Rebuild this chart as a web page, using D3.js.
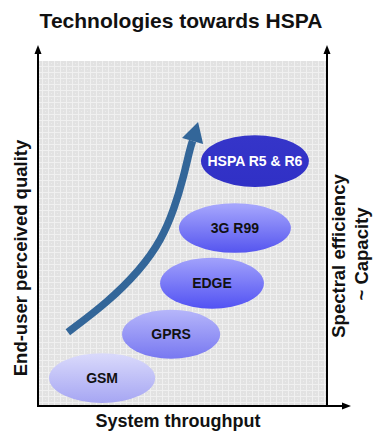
<!DOCTYPE html>
<html>
<head>
<meta charset="utf-8">
<script src="https://cdn.jsdelivr.net/npm/d3@7"></script>
<style>
  html, body { margin: 0; padding: 0; background: #fff; }
  svg { display: block; }
  text { font-family: "Liberation Sans", Arial, sans-serif; font-weight: bold; }
</style>
</head>
<body>
<div id="chart"></div>
<script>
// Technology generations: position on the throughput / quality plane
const technologies = ["GSM", "GPRS", "EDGE", "3G R99", "HSPA R5 & R6"];
const throughput   = [22.1, 45.9, 60.0, 67.9, 74.8];   // x centre (0-100)
const quality      = [8.1, 20.8, 35.6, 51.6, 71.0];    // y centre (0-100)
const spreadX      = [18.3, 16.9, 17.9, 19.3, 18.6];   // half-width (x units)
const spreadY      = [7.2, 7.1, 7.4, 7.2, 7.5];        // half-height (y units)
const topColor     = ["#dadafb", "#b6b6fa", "#a2a2fb", "#a8a8fd", "#3535c9"];
const bottomColor  = ["#a6a6f3", "#7878f1", "#5252f3", "#5555ef", "#3030c6"];
const labelColor   = ["#111", "#111", "#111", "#111", "#fff"];

// Evolution trend curve (x, y in the same 0-100 units)
const trendX = [10.3, 23.8, 35.2, 42.6, 47.0, 50.2, 52.4, 53.3];
const trendY = [21.4, 29.9, 39.4, 48.2, 57.2, 66.4, 74.6, 76.8];
const trendTip = [55.2, 82.3];

const title = "Technologies towards HSPA";
const xTitle = "System throughput";
const yTitle = "End-user perceived quality";
const y2Title = ["Spectral efficiency", "~ Capacity"];

const W = 375, H = 434;
const plot = { left: 38, right: 327, top: 61, bottom: 406 };

const svg = d3.select("#chart").append("svg")
  .attr("width", W).attr("height", H);

const x = d3.scaleLinear().domain([0, 100]).range([plot.left, plot.left + 290]);
const y = d3.scaleLinear().domain([0, 100]).range([plot.bottom, plot.top]);

const defs = svg.append("defs");

// Fine woven texture for the plot background
const pat = defs.append("pattern")
  .attr("id", "weave").attr("patternUnits", "userSpaceOnUse")
  .attr("width", 6).attr("height", 6);
pat.append("rect").attr("width", 6).attr("height", 6).attr("fill", "#e2e2e2");
pat.append("rect").attr("x", 0).attr("y", 0).attr("width", 6).attr("height", 1).attr("fill", "#f0f0f0");
pat.append("rect").attr("x", 0).attr("y", 0).attr("width", 1).attr("height", 6).attr("fill", "#f0f0f0");
pat.append("rect").attr("x", 3).attr("y", 3).attr("width", 1).attr("height", 1).attr("fill", "#ececec");

technologies.forEach((t, i) => {
  const g = defs.append("linearGradient")
    .attr("id", "grad" + i).attr("x1", 0).attr("y1", 0).attr("x2", 0).attr("y2", 1);
  g.append("stop").attr("offset", "0%").attr("stop-color", topColor[i]);
  g.append("stop").attr("offset", "100%").attr("stop-color", bottomColor[i]);
});

// Plot background
svg.append("rect")
  .attr("x", plot.left).attr("y", plot.top)
  .attr("width", plot.right - plot.left).attr("height", plot.bottom - plot.top)
  .attr("fill", "url(#weave)");

// Axes with arrow heads
function arrowHead(tx, ty, dir) {
  const p = dir === "up"
    ? [[tx, ty], [tx - 3.5, ty + 9], [tx + 3.5, ty + 9]]
    : [[tx, ty], [tx - 9, ty - 3.5], [tx - 9, ty + 3.5]];
  svg.append("path").attr("d", "M" + p.map(d => d.join(",")).join("L") + "Z").attr("fill", "#000");
}
const axisG = svg.append("g").attr("stroke", "#000").attr("stroke-width", 2);
axisG.append("line").attr("x1", plot.left).attr("x2", plot.left)
  .attr("y1", plot.bottom + 1).attr("y2", 52);
axisG.append("line").attr("x1", plot.right).attr("x2", plot.right)
  .attr("y1", plot.bottom + 1).attr("y2", 52);
axisG.append("line").attr("x1", plot.left - 1).attr("x2", 344)
  .attr("y1", plot.bottom).attr("y2", plot.bottom);
arrowHead(plot.left, 45, "up");
arrowHead(plot.right, 45, "up");
arrowHead(351, plot.bottom, "right");

// Trend curve with arrow head
const trend = trendX.map((v, i) => [x(v), y(trendY[i])]);
svg.append("path")
  .attr("d", d3.line().curve(d3.curveBasis)(trend))
  .attr("fill", "none").attr("stroke", "#336699").attr("stroke-width", 7.5);
{
  const base = trend[trend.length - 1];
  const tip = [x(trendTip[0]), y(trendTip[1])];
  const dx = tip[0] - base[0], dy = tip[1] - base[1];
  const len = Math.hypot(dx, dy);
  const nx = -dy / len, ny = dx / len, hw = 11;
  const pts = [tip, [base[0] + nx * hw, base[1] + ny * hw], [base[0] - nx * hw, base[1] - ny * hw]];
  svg.append("path").attr("d", "M" + pts.map(d => d.join(",")).join("L") + "Z").attr("fill", "#336699");
}

// Technology bubbles
const bubbles = svg.append("g").selectAll("g").data(technologies).join("g");
bubbles.append("ellipse")
  .attr("cx", (d, i) => x(throughput[i]))
  .attr("cy", (d, i) => y(quality[i]))
  .attr("rx", (d, i) => x(spreadX[i]) - x(0))
  .attr("ry", (d, i) => y(0) - y(spreadY[i]))
  .attr("fill", (d, i) => "url(#grad" + i + ")");
bubbles.append("text")
  .attr("x", (d, i) => x(throughput[i]))
  .attr("y", (d, i) => y(quality[i]))
  .attr("dy", "0.36em")
  .attr("text-anchor", "middle")
  .attr("font-size", 14)
  .attr("fill", (d, i) => labelColor[i])
  .text(d => d);

// Titles
svg.append("text").attr("x", 181).attr("y", 27.5)
  .attr("text-anchor", "middle").attr("font-size", 21).attr("fill", "#111")
  .text(title);
svg.append("text").attr("x", 178).attr("y", 427)
  .attr("text-anchor", "middle").attr("font-size", 18).attr("fill", "#111")
  .text(xTitle);
svg.append("text")
  .attr("transform", "translate(27,258) rotate(-90)")
  .attr("text-anchor", "middle").attr("font-size", 18.5).attr("fill", "#111")
  .text(yTitle);
svg.append("text")
  .attr("transform", "translate(345,256) rotate(-90)")
  .attr("text-anchor", "middle").attr("font-size", 18.5).attr("fill", "#111")
  .text(y2Title[0]);
svg.append("text")
  .attr("transform", "translate(368,254) rotate(-90)")
  .attr("text-anchor", "middle").attr("font-size", 18.5).attr("fill", "#111")
  .text(y2Title[1]);
</script>
</body>
</html>
